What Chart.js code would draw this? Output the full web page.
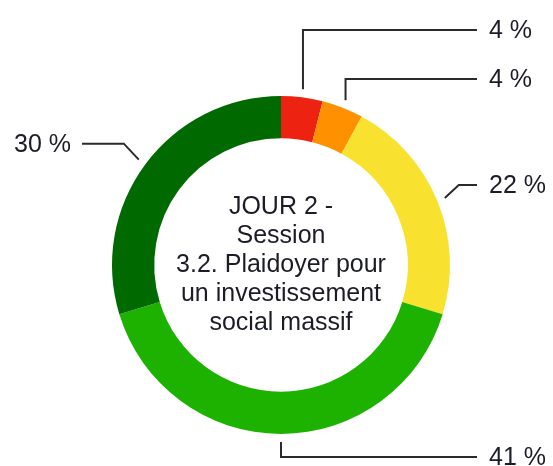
<!DOCTYPE html>
<html>
<head>
<meta charset="utf-8">
<script src="https://cdn.jsdelivr.net/npm/chart.js@4/dist/chart.umd.min.js"></script>
<style>
	html, body { margin: 0; padding: 0; background: #fff; }
	#wrap { width: 553px; height: 466px; }
</style>
</head>
<body>
<div id="wrap"><canvas id="chartDonut" width="553" height="466"></canvas></div>
<script>
var categories = ['Pas du tout satisfait', 'Peu satisfait', 'Moyennement satisfait', 'Satisfait', 'Très satisfait'];
var values = [4, 4, 22, 41, 30];
var valueLabels = ['4 %', '4 %', '22 %', '41 %', '30 %'];
var sliceColors = ['#EE2211', '#FF9000', '#F9E22F', '#1EB200', '#006A00'];
var centerLines = ['JOUR 2 -', 'Session', '3.2. Plaidoyer pour', 'un investissement', 'social massif'];

// how each leader line leaves its slice
var leaders = [
	{ kind: 'up', labelY: 30 },
	{ kind: 'up', labelY: 79 },
	{ kind: 'elbow', dx: 14, dy: -13 },
	{ kind: 'down', dy: 15 },
	{ kind: 'elbow', dx: -15, dy: -16 }
];

var FONT = '"Liberation Sans", Arial, Helvetica, sans-serif';

var leaderPlugin = {
	id: 'leaderLabels',
	afterDraw(chart) {
		let ctx = chart.ctx;
		let meta = chart.getDatasetMeta(0);
		ctx.save();
		ctx.strokeStyle = '#2b2b2b';
		ctx.lineWidth = 2;
		ctx.fillStyle = '#1c1c28';
		ctx.font = '25px ' + FONT;
		ctx.textBaseline = 'middle';

		meta.data.forEach((arc, i) => {
			let p = arc.getProps(['x', 'y', 'startAngle', 'endAngle', 'outerRadius'], true);
			let mid = (p.startAngle + p.endAngle) / 2;
			let r = p.outerRadius + 8;
			let sx = p.x + Math.cos(mid) * r;
			let sy = p.y + Math.sin(mid) * r;
			let cfg = leaders[i];
			let ex, ey, right = sx >= p.x - 1;

			ctx.beginPath();
			ctx.moveTo(sx, sy);
			if (cfg.kind === 'up') {
				ey = cfg.labelY;
				ctx.lineTo(sx, ey);
			} else if (cfg.kind === 'down') {
				ey = sy + cfg.dy;
				ctx.lineTo(sx, ey);
			} else {
				ey = sy + cfg.dy;
				ctx.lineTo(sx + cfg.dx, ey);
			}
			ex = right ? 477 : 82;
			ctx.lineTo(ex, ey);
			ctx.stroke();

			ctx.textAlign = right ? 'left' : 'right';
			ctx.fillText(valueLabels[i], right ? ex + 12 : ex - 11, ey + 1);
		});
		ctx.restore();
	}
};

var centerPlugin = {
	id: 'centerText',
	afterDraw(chart) {
		let ctx = chart.ctx;
		let arc = chart.getDatasetMeta(0).data[0];
		let lineH = 29;
		let top = arc.y - (centerLines.length - 1) * lineH / 2;
		ctx.save();
		ctx.fillStyle = '#1c1c28';
		ctx.font = '25px ' + FONT;
		ctx.textAlign = 'center';
		ctx.textBaseline = 'middle';
		centerLines.forEach((line, i) => {
			ctx.fillText(line, arc.x, top + i * lineH);
		});
		ctx.restore();
	}
};

new Chart(document.getElementById('chartDonut').getContext('2d'), {
	type: 'doughnut',
	data: {
		labels: categories,
		datasets: [{
			data: values,
			backgroundColor: sliceColors,
			borderWidth: 0
		}]
	},
	options: {
		responsive: false,
		animation: false,
		cutout: '75%',
		layout: {
			padding: { left: 112, right: 103, top: 96, bottom: 32 }
		},
		plugins: {
			legend: { display: false },
			tooltip: { enabled: false }
		}
	},
	plugins: [leaderPlugin, centerPlugin]
});
</script>
</body>
</html>
